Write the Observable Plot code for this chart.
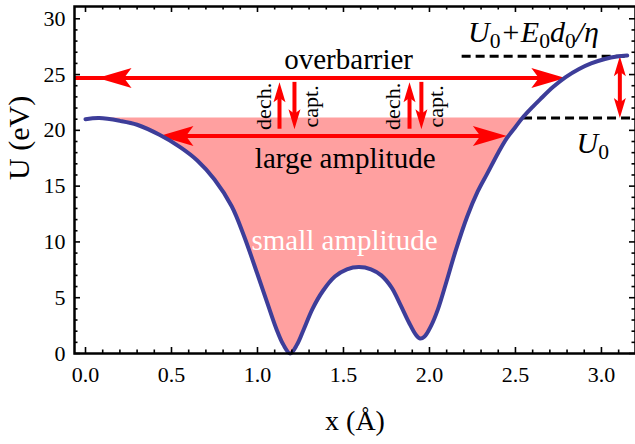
<!DOCTYPE html>
<html><head><meta charset="utf-8">
<script src="https://cdn.jsdelivr.net/npm/d3@7"></script>
<script src="https://cdn.jsdelivr.net/npm/@observablehq/plot@0.6"></script>
<style>body{margin:0;background:#fff} svg{display:block} svg text{font-family:"Liberation Serif",serif !important}</style>
</head><body><div id="chart"></div>
<script>
// Potential curve U(x)
const curveX = [0.00,0.08,0.20,0.30,0.43,0.55,0.65,0.75,0.85,0.92,1.00,1.06,1.11,1.15,1.19,1.23,1.27,1.32,1.38,1.45,1.52,1.59,1.66,1.72,1.78,1.83,1.88,1.92,1.945,1.97,2.01,2.05,2.10,2.15,2.22,2.28,2.335,2.40,2.45,2.50,2.54,2.60,2.645,2.72,2.79,2.87,2.94,3.02,3.09,3.15];
const curveU = [21.0,21.1,20.85,20.5,19.6,18.5,17.3,15.6,13.2,10.6,7.1,4.4,2.2,0.8,0.0,0.8,2.2,4.0,5.6,6.9,7.55,7.75,7.55,7.0,5.9,4.4,2.8,1.7,1.35,1.5,2.5,4.0,6.5,9.1,12.3,14.5,16.1,18.0,19.3,20.3,21.1,22.1,22.8,23.9,24.75,25.5,26.0,26.4,26.62,26.7];
const U0 = 21.1;
const Utop = 26.65;
const wellStart = 0.08, wellEnd = 2.54;

// Axes
const xDomain = [-0.064, 3.198];
const yDomain = [0, 31.1];
const xTicks = [0, 0.5, 1, 1.5, 2, 2.5, 3];
const xTickLabels = ["0.0","0.5","1.0","1.5","2.0","2.5","3.0"];
const yTicks = [0, 5, 10, 15, 20, 25, 30];
const yTickLabels = ["0","5","10","15","20","25","30"];
const xMinor = d3.range(0, 3.2, 0.1).map(v => +v.toFixed(2)).filter(v => !xTicks.includes(v));
const yMinor = d3.range(1, 31, 1).filter(v => !yTicks.includes(v));

// Arrows
const overY = 24.7, overLeft = 0.07, overRight = 2.79;
const largeY = 19.5, largeLeft = 0.43, largeRight = 2.45;
const upX = [1.128, 1.884];
const downX = [1.215, 1.953];
const vLo = 20.1, vHi = 24.3;
const dblX = 3.107;

// Dashed levels
const dashTop = {x1: 2.19, x2: 3.15, y: Utop};
const dashU0 = {x1: 2.547, x2: 3.198, y: U0};

// Labels
const labels = [
  {x: 1.53, y: 26.3, text: "overbarrier"},
  {x: 1.51, y: 17.5, text: "large amplitude"}
];
const whiteLabels = [{x: 1.506, y: 10.1, text: "small amplitude"}];
const rotLabels = [
  {x: 1.035, y: 22.15, text: "dech."},
  {x: 1.308, y: 22.15, text: "capt."},
  {x: 1.790, y: 22.15, text: "dech."},
  {x: 2.040, y: 22.15, text: "capt."}
];
const mathLabels = [
  {x: 2.605, y: 28.8, text: "U_0+E_0d_0/η"},
  {x: 2.95, y: 18.8, text: "U_0"}
];

const curve = curveX.map((x, i) => ({x, u: curveU[i]}));
const well = curve.filter(d => d.x >= wellStart && d.x <= wellEnd);

function head(L, W, dir) {
  const [c, s] = {right: [1,0], left: [-1,0], up: [0,-1], down: [0,1]}[dir];
  const P = [[0,0],[-L,-W/2],[-0.78*L,0],[-L,W/2]].map(([px,py]) => [px*c - py*s, px*s + py*c]);
  return {draw(ctx) {
    ctx.moveTo(P[0][0], P[0][1]);
    for (let k = 1; k < P.length; k++) ctx.lineTo(P[k][0], P[k][1]);
    ctx.closePath();
  }};
}

const RED = "#ff0000";
const FF = "Liberation Serif";

const plot = Plot.plot({
  width: 635, height: 444,
  marginLeft: 74, marginRight: 0, marginTop: 6, marginBottom: 91,
  x: {domain: xDomain},
  y: {domain: yDomain},
  style: {fontFamily: FF, background: "white", color: "black"},
  marks: [
    Plot.areaY(well, {x: "x", y1: "u", y2: () => U0, fill: "#ffa0a0", curve: "catmull-rom"}),
    Plot.ruleY([dashTop, dashU0], {y: "y", x1: "x1", x2: "x2", stroke: "black", strokeWidth: 3, strokeDasharray: "9,5"}),
    Plot.ruleY([{y: overY, x1: xDomain[0], x2: overRight}], {y: "y", x1: "x1", x2: "x2", stroke: RED, strokeWidth: 4, insetRight: 14}),
    Plot.ruleY([{y: largeY, x1: largeLeft, x2: largeRight}], {y: "y", x1: "x1", x2: "x2", stroke: RED, strokeWidth: 4, insetRight: 14, insetLeft: 14}),
    Plot.dot([{x: overLeft, y: overY}, {x: largeLeft, y: largeY}], {x: "x", y: "y", r: 5, symbol: head(34, 20, "left"), fill: RED, stroke: "none"}),
    Plot.dot([{x: overRight, y: overY}, {x: largeRight, y: largeY}], {x: "x", y: "y", r: 5, symbol: head(34, 20, "right"), fill: RED, stroke: "none"}),
    Plot.ruleX(upX, {x: d => d, y1: () => vHi, y2: () => vLo, stroke: RED, strokeWidth: 4, insetTop: 10}),
    Plot.ruleX(downX, {x: d => d, y1: () => vHi, y2: () => vLo, stroke: RED, strokeWidth: 4, insetBottom: 10}),
    Plot.dot(upX, {x: d => d, y: () => vHi, r: 5, symbol: head(20, 12, "up"), fill: RED, stroke: "none"}),
    Plot.dot(downX, {x: d => d, y: () => vLo, r: 5, symbol: head(20, 12, "down"), fill: RED, stroke: "none"}),
    Plot.ruleX([dblX], {x: d => d, y1: () => Utop, y2: () => U0, stroke: RED, strokeWidth: 4, insetTop: 10, insetBottom: 10}),
    Plot.dot([dblX], {x: d => d, y: () => Utop, r: 5, symbol: head(20, 12, "up"), fill: RED, stroke: "none"}),
    Plot.dot([dblX], {x: d => d, y: () => U0, r: 5, symbol: head(20, 12, "down"), fill: RED, stroke: "none"}),
    Plot.line(curve, {x: "x", y: "u", stroke: "#3d3d99", strokeWidth: 4, curve: "catmull-rom"}),
    Plot.text(labels, {x: "x", y: "y", text: "text", fontSize: 29, fontFamily: FF, fill: "black"}),
    Plot.text(whiteLabels, {x: "x", y: "y", text: "text", fontSize: 29, fontFamily: FF, fill: "white"}),
    Plot.text(rotLabels, {x: "x", y: "y", text: "text", fontSize: 22, fontFamily: FF, rotate: -90, fill: "black"}),
    Plot.text(mathLabels, {x: "x", y: "y", text: "text", fontSize: 30, fontFamily: FF, fontStyle: "italic", fill: "black"}),
    Plot.ruleX(xTicks, {x: d => d, y1: () => yDomain[0], y2: () => yDomain[0], insetBottom: 6, stroke: "black", strokeWidth: 1.6}),
    Plot.ruleX(xMinor, {x: d => d, y1: () => yDomain[0], y2: () => yDomain[0], insetBottom: 3.5, stroke: "black", strokeWidth: 1.6}),
    Plot.ruleX(xTicks, {x: d => d, y1: () => yDomain[1], y2: () => yDomain[1], insetTop: 6, stroke: "black", strokeWidth: 1.6}),
    Plot.ruleX(xMinor, {x: d => d, y1: () => yDomain[1], y2: () => yDomain[1], insetTop: 3.5, stroke: "black", strokeWidth: 1.6}),
    Plot.ruleY(yTicks, {y: d => d, x1: () => xDomain[0], x2: () => xDomain[0], insetRight: -6, stroke: "black", strokeWidth: 1.6}),
    Plot.ruleY(yMinor, {y: d => d, x1: () => xDomain[0], x2: () => xDomain[0], insetRight: -3.5, stroke: "black", strokeWidth: 1.6}),
    Plot.ruleY(yTicks, {y: d => d, x1: () => xDomain[1], x2: () => xDomain[1], insetLeft: -6, stroke: "black", strokeWidth: 1.6}),
    Plot.ruleY(yMinor, {y: d => d, x1: () => xDomain[1], x2: () => xDomain[1], insetLeft: -3.5, stroke: "black", strokeWidth: 1.6}),
    Plot.axisX(xTicks, {tickSize: 0, tickPadding: 13, fontSize: 22, fontFamily: FF, label: null, tickFormat: d => xTickLabels[xTicks.indexOf(d)]}),
    Plot.axisY(yTicks, {tickSize: 0, tickPadding: 9, fontSize: 22, fontFamily: FF, label: null, tickFormat: d => yTickLabels[yTicks.indexOf(d)]}),
    Plot.text(["x (Å)"], {frameAnchor: "bottom", dy: 76, text: d => d, fontSize: 28, fontFamily: FF}),
    Plot.text(["U (eV)"], {frameAnchor: "left", dx: -55, rotate: -90, text: d => d, fontSize: 30, fontFamily: FF}),
    Plot.frame({stroke: "black", strokeWidth: 2.5})
  ]
});

// subscripts
d3.select(plot).selectAll("text").each(function() {
  const t = this.textContent;
  if (!t.includes("_")) return;
  const parts = t.split(/(_\d)/).filter(p => p);
  this.textContent = "";
  for (const p of parts) {
    const ts = document.createElementNS("http://www.w3.org/2000/svg", "tspan");
    if (p[0] === "_") {
      ts.textContent = p.slice(1);
      ts.setAttribute("font-size", "0.72em");
      ts.setAttribute("font-style", "normal");
      ts.setAttribute("baseline-shift", "-0.28em");
    } else ts.textContent = p;
    this.appendChild(ts);
  }
});

document.getElementById("chart").appendChild(plot);
</script>
</body></html>
